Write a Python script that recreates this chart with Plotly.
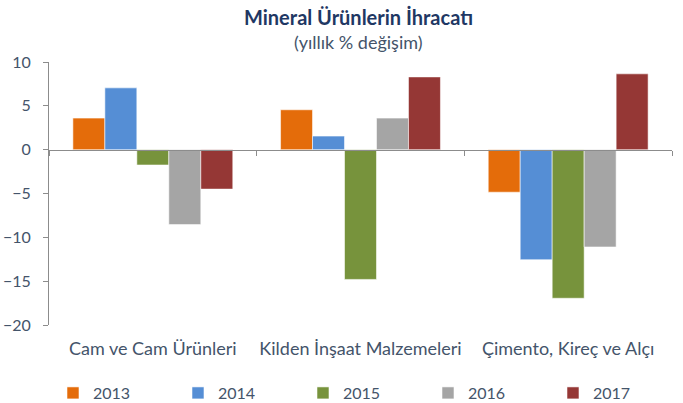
import plotly.graph_objects as go

categories = ["Cam ve Cam Ürünleri", "Kilden İnşaat Malzemeleri", "Çimento, Kireç ve Alçı"]
years = ["2013", "2014", "2015", "2016", "2017"]
v2013 = [3.6, 4.55, -4.85]
v2014 = [7.05, 1.55, -12.55]
v2015 = [-1.75, -14.8, -16.95]
v2016 = [-8.55, 3.6, -11.1]
v2017 = [-4.5, 8.3, 8.65]
series = [v2013, v2014, v2015, v2016, v2017]
colors = ["#E46C0A", "#558ED5", "#77933C", "#A5A5A5", "#953735"]

FONT = "Lato"
TXT = "#44546A"
AX = "#8C8C8C"

fig = go.Figure()
for yr, vals, col in zip(years, series, colors):
    fig.add_trace(go.Bar(
        x=categories, y=vals, name=yr,
        marker=dict(color=col, line=dict(color="rgba(255,255,255,0.55)", width=1)),
    ))

# invisible helper so the zero-line axis knows the categories
fig.add_trace(go.Scatter(x=categories, y=[0, 0, 0], xaxis="x2", mode="markers",
                         marker=dict(opacity=0), showlegend=False, hoverinfo="skip"))

fig.update_layout(
    width=683, height=403,
    margin=dict(l=49, r=11, t=62, b=78, autoexpand=False),
    paper_bgcolor="white", plot_bgcolor="white",
    barmode="group", bargap=0.23, bargroupgap=0,
    font=dict(family=FONT, size=16, color=TXT),
    showlegend=True,
    legend=dict(orientation="h", xref="paper", x=0.0064, xanchor="left",
                yref="paper", y=-0.2586, yanchor="middle",
                entrywidth=80, font=dict(size=16, color=TXT), traceorder="normal"),
    xaxis=dict(type="category", categoryarray=categories, range=[-0.5, 2.5], automargin=False,
               showline=False, ticks="", showgrid=False, zeroline=False,
               tickfont=dict(size=18, color=TXT), ticklabelstandoff=11),
    xaxis2=dict(type="category", categoryarray=categories, range=[-0.5, 2.5], automargin=False,
                overlaying="x", anchor="free", position=2/3, side="bottom",
                showline=True, linecolor=AX, linewidth=1,
                ticks="outside", ticklen=5, tickcolor=AX, tickson="boundaries",
                showticklabels=False, showgrid=False, zeroline=False),
    yaxis=dict(range=[-20, 10], dtick=5, tick0=0, automargin=False,
               showline=True, linecolor=AX, linewidth=1,
               ticks="outside", ticklen=5, tickcolor=AX, showgrid=False, zeroline=False,
               tickfont=dict(size=16, color=TXT), ticklabelstandoff=9),
    annotations=[
        dict(text="Mineral Ürünlerin İhracatı", xref="paper", yref="paper",
             x=0.496, y=1.171, xanchor="center", yanchor="middle", showarrow=False,
             font=dict(family=FONT, size=20, color="#1F3864", weight="bold")),
        dict(text="(yıllık % değişim)", xref="paper", yref="paper",
             x=0.496, y=1.076, xanchor="center", yanchor="middle", showarrow=False,
             font=dict(family=FONT, size=18, color=TXT)),
    ],
)

fig.write_html("out.html", config={"displayModeBar": False},
               post_script="document.body.style.margin='0';document.body.style.overflow='hidden';")
